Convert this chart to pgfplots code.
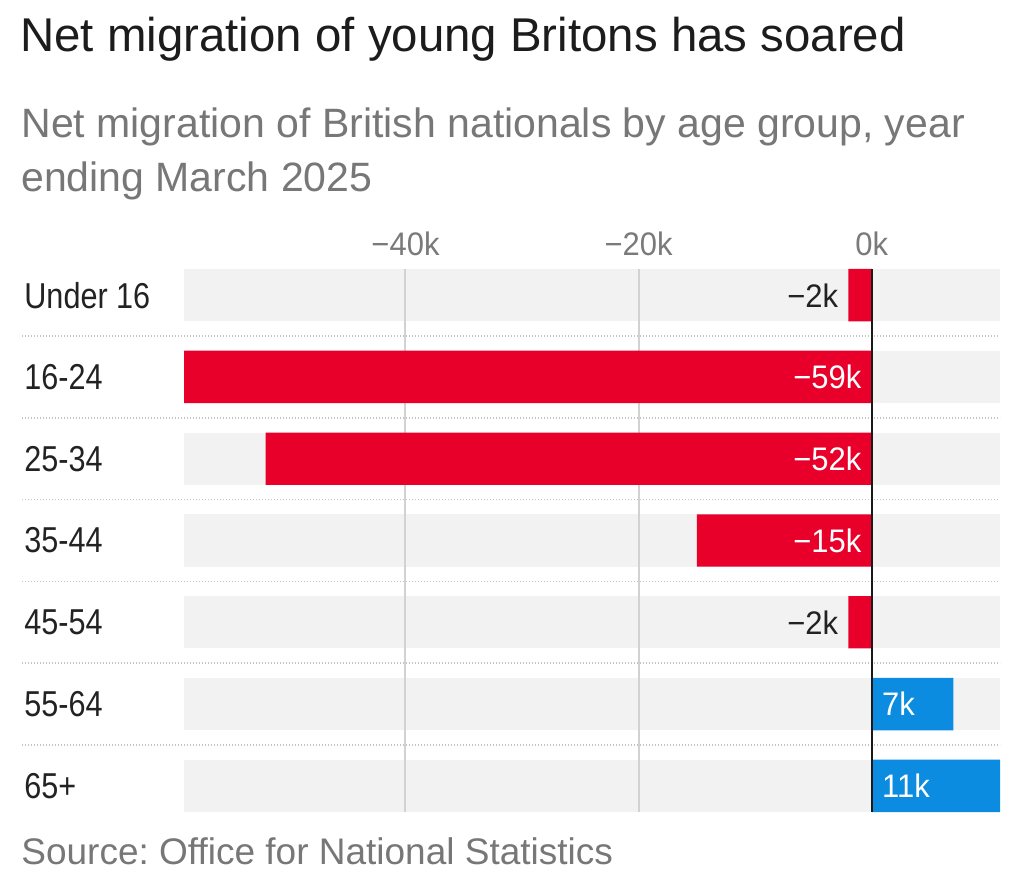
\documentclass[border=0pt]{standalone}
\usepackage{fontspec}
\setmainfont{Liberation Sans}
\newfontfamily\condensed{Liberation Sans}[FakeStretch=0.85]
\newfontfamily\numfont{Liberation Sans}[FakeStretch=0.95]
\usepackage{pgfplots}
\usepackage{pgfplotstable}
\pgfplotsset{compat=1.18}
\frenchspacing

\definecolor{titleblack}{HTML}{1C1C1C}
\definecolor{subgray}{HTML}{777777}
\definecolor{tickgray}{HTML}{7A7A7A}
\definecolor{labelblack}{HTML}{222222}
\definecolor{bandgray}{HTML}{F2F2F2}
\definecolor{gridgray}{HTML}{D2D2D2}
\definecolor{sepgray}{HTML}{C4C4C4}
\definecolor{negred}{HTML}{E8002B}
\definecolor{posblue}{HTML}{0C8CE0}

% Net migration of British nationals, thousands (row 6 = Under 16, row 0 = 65+)
\pgfplotstableread{
row value
5 -59
4 -52
3 -15
}\outlarge
\pgfplotstableread{
row value
6 -2
2 -2
}\outsmall
\pgfplotstableread{
row value
1 7
0 11
}\inflow

\begin{document}
\begin{tikzpicture}

\node[anchor=base west, inner sep=0pt, text=titleblack,
      font=\fontsize{23.7pt}{28pt}\selectfont] at (10pt,-26pt)
  {Net migration of young Britons has soared};
\node[anchor=base west, inner sep=0pt, text=subgray,
      font=\fontsize{20.5pt}{27pt}\selectfont] at (10.5pt,-69pt)
  {Net migration of British nationals by age group, year};
\node[anchor=base west, inner sep=0pt, text=subgray,
      font=\fontsize{20.5pt}{27pt}\selectfont] at (10.5pt,-96pt)
  {ending March 2025};
\node[anchor=base west, inner sep=0pt, text=subgray,
      font=\fontsize{18.5pt}{22pt}\selectfont] at (10.5pt,-432.5pt)
  {Source: Office for National Statistics};

\begin{axis}[
  at={(92pt,-134.5pt)}, anchor=north west,
  scale only axis, width=408pt, height=271.5pt,
  xmin=-59, xmax=11, ymin=-0.321, ymax=6.321,
  clip=false, set layers,
  axis line style={draw=none}, major tick length=0pt,
  /pgf/number format/assume math mode=true,
  xtick={-40,-20,0}, xticklabels={−40k,−20k,0k},
  xticklabel pos=top,
  xticklabel style={anchor=base, inner sep=0pt, yshift=6.5pt,
    text=tickgray, font=\numfont\fontsize{16.3pt}{18pt}\selectfont},
  ytick={0,...,6},
  yticklabels={65+,55-64,45-54,35-44,25-34,16-24,Under 16},
  yticklabel style={anchor=west, inner sep=0pt, xshift=-80pt,
    text=labelblack, font=\condensed\fontsize{18pt}{20pt}\selectfont},
  xmajorgrids, grid style={gridgray, line width=1pt},
  every node near coord/.append style={inner sep=0pt,
    font=\numfont\fontsize{16.3pt}{18pt}\selectfont},
]
% row bands and separators
\begin{pgfonlayer}{axis background}
\pgfplotsinvokeforeach{0,...,6}{
  \fill[bandgray] (axis cs:-59,#1-0.321) rectangle (axis cs:11,#1+0.321);
}
\pgfplotsinvokeforeach{0.5,1.5,2.5,3.5,4.5,5.5}{
  \draw[sepgray, line width=0.7pt, dash pattern=on 0.7pt off 0.8pt]
    ([xshift=-81pt]axis cs:-59,#1) -- (axis cs:11,#1);
}
\end{pgfonlayer}

% bars
\addplot[xbar, bar width=0.642, bar shift=0pt, fill=negred, draw=none]
  table[x=value, y=row] {\outlarge};
\addplot[xbar, bar width=0.642, bar shift=0pt, fill=negred, draw=none]
  table[x=value, y=row] {\outsmall};
\addplot[xbar, bar width=0.642, bar shift=0pt, fill=posblue, draw=none]
  table[x=value, y=row] {\inflow};

% value labels
\addplot[draw=none, point meta=explicit,
  nodes near coords={−\pgfmathprintnumber{\pgfplotspointmeta}k},
  nodes near coords style={anchor=east, xshift=-5pt, text=white}]
  table[x expr=0, y=row, meta expr=-\thisrow{value}] {\outlarge};
\addplot[draw=none, point meta=explicit,
  nodes near coords={−\pgfmathprintnumber{\pgfplotspointmeta}k},
  nodes near coords style={anchor=east, xshift=-5pt, text=labelblack}]
  table[x=value, y=row, meta expr=-\thisrow{value}] {\outsmall};
\addplot[draw=none, point meta=explicit,
  nodes near coords={\pgfmathprintnumber{\pgfplotspointmeta}k},
  nodes near coords style={anchor=west, xshift=5pt, text=white}]
  table[x expr=0, y=row, meta=value] {\inflow};

% zero line
\draw[black!90, line width=1pt] (axis cs:0,-0.321) -- (axis cs:0,6.321);
\end{axis}

\path (0,0) rectangle (512pt,-446pt);
\end{tikzpicture}
\end{document}
